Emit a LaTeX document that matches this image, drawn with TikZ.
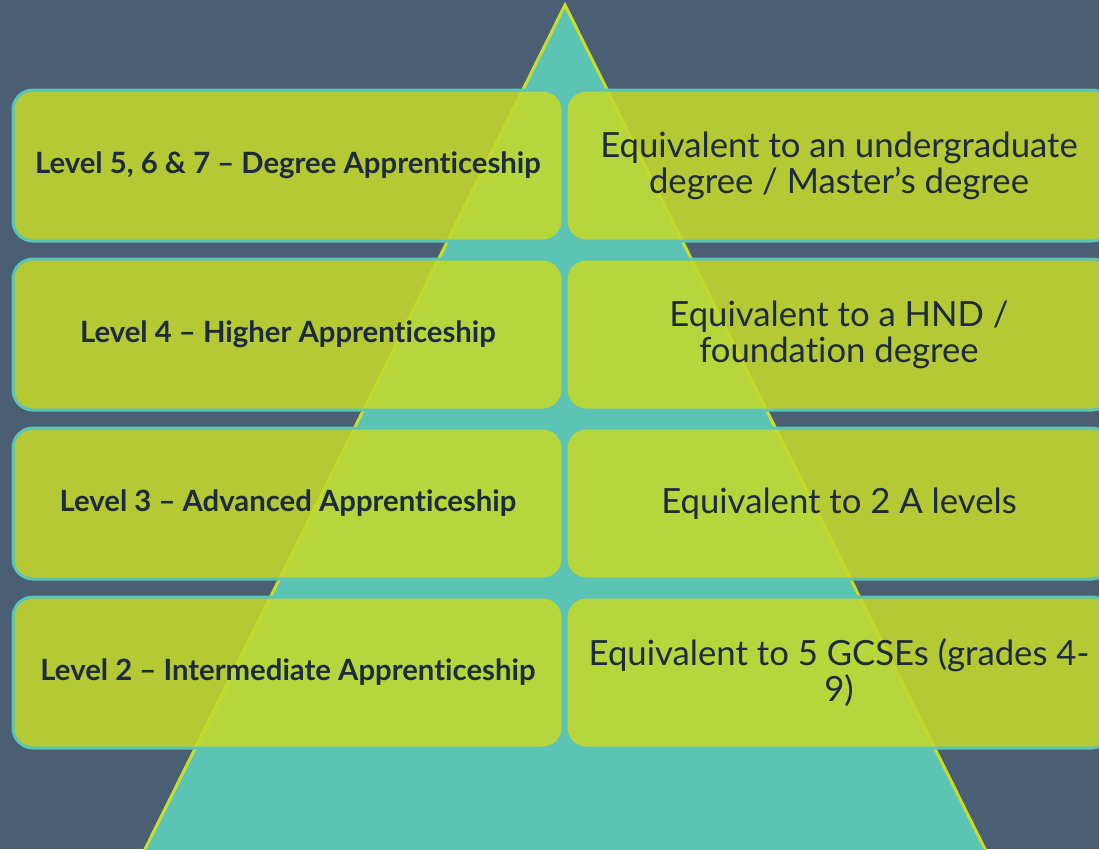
\documentclass[tikz,border=0pt]{standalone}
\usepackage{fontspec}
\setmainfont{Lato}[Ligatures=CommonOff]
\usetikzlibrary{positioning}
\definecolor{slate}{HTML}{4A5F73}
\definecolor{pyrteal}{HTML}{5CC4B4}
\definecolor{pyrlime}{RGB}{196,217,43}
\definecolor{pyredge}{HTML}{C8DC2A}
\definecolor{inkblue}{HTML}{1F2A3C}

\begin{document}
\begin{tikzpicture}[x=1pt,y=-1pt,
    levelbox/.style={draw=pyrteal, line width=3pt, fill=pyrlime, fill opacity=.87, text opacity=1,
        rounded corners=20pt, minimum width=550pt, minimum height=151pt, inner sep=0pt,
        text=inkblue, font=\fontsize{29.3}{34}\selectfont\bfseries},
    eqbox/.style={levelbox, minimum width=546pt, align=center, font=\fontsize{34.7}{36}\selectfont},
    node distance=15pt]
    \useasboundingbox (0,0) rectangle (1099,849);
    \clip (0,0) rectangle (1099,849);
    \fill[slate] (0,0) rectangle (1099,849);
    % pyramid behind the boxes
    \draw[pyredge, line width=3pt, fill=pyrteal, line join=miter]
        (565,5) -- (139.6,860) -- (990.4,860) -- cycle;
    % levels
    \node[levelbox] (lvl5) at (288,165.5) {Level 5, 6 \& 7 – Degree Apprenticeship};
    \node[levelbox, below=of lvl5] (lvl4) {Level 4 – Higher Apprenticeship};
    \node[levelbox, below=of lvl4] (lvl3) {Level 3 – Advanced Apprenticeship};
    \node[levelbox, below=of lvl3] (lvl2) {Level 2 – Intermediate Apprenticeship};
    % equivalents
    \node[eqbox, right=0pt of lvl5] (eq5) {Equivalent to an undergraduate\\degree / Master’s degree};
    \node[eqbox, right=0pt of lvl4] (eq4) {Equivalent to a HND /\\foundation degree};
    \node[eqbox, right=0pt of lvl3] (eq3) {Equivalent to 2 A levels};
    \node[eqbox, right=0pt of lvl2] (eq2) {Equivalent to 5 GCSEs (grades 4-\\9)};
\end{tikzpicture}
\end{document}
